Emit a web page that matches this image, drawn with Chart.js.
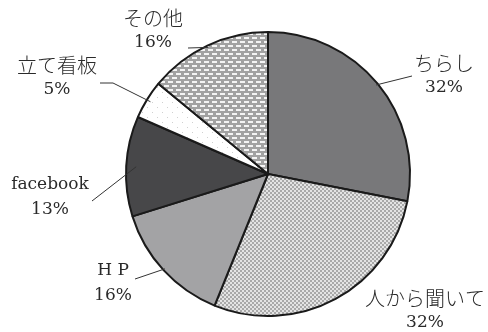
<!DOCTYPE html>
<html>
<head>
<meta charset="utf-8">
<script src="https://cdn.jsdelivr.net/npm/chart.js@4/dist/chart.umd.min.js"></script>
<style>
  html, body { margin: 0; padding: 0; background: #fff; }
  #wrap { width: 488px; height: 332px; }
</style>
</head>
<body>
<div id="wrap"><canvas id="pie" width="488" height="332"></canvas></div>
<script>
// 回答の内訳
const categories = ['ちらし', '人から聞いて', 'H P', 'facebook', '立て看板', 'その他'];
const shares = [32, 32, 16, 13, 5, 16];
const shareLabels = ['32%', '32%', '16%', '13%', '5%', '16%'];

// 塗りパターン
function makePattern(size, draw) {
    const c = document.createElement('canvas');
    c.width = size;
    c.height = size;
    const g = c.getContext('2d');
    draw(g);
    return document.createElement('canvas').getContext('2d').createPattern(c, 'repeat');
}

const checker = makePattern(4, g => {
    g.fillStyle = '#a9a9a9';
    g.fillRect(0, 0, 4, 4);
    g.fillStyle = '#e4e4e4';
    g.fillRect(0, 0, 2, 2);
    g.fillRect(2, 2, 2, 2);
});

const dashes = makePattern(8, g => {
    g.fillStyle = '#a2a2a2';
    g.fillRect(0, 0, 8, 8);
    g.fillStyle = '#f4f4f4';
    g.fillRect(0, 1, 5, 2);
    g.fillRect(4, 5, 4, 2);
    g.fillRect(0, 5, 1, 2);
});

const dots = makePattern(10, g => {
    g.fillStyle = '#ffffff';
    g.fillRect(0, 0, 10, 10);
    g.fillStyle = '#d0d0d0';
    g.fillRect(2, 2, 1, 1);
    g.fillRect(7, 7, 1, 1);
});

const fills = ['#78787a', checker, '#a3a3a5', '#474749', dots, dashes];

// ラベル位置と引き出し線
const labelPos = [
    { x: 444, y: 63, lead: [[412, 76]] },
    { x: 425, y: 298, lead: null },
    { x: 113, y: 271, lead: [[135, 279]] },
    { x: 50, y: 185, lead: [[92, 201]], inset: 10 },
    { x: 57, y: 65, lead: [[100, 83], [113, 83]], inset: 4 },
    { x: 153, y: 18, lead: [[188, 48]] }
];

const latinFont = '17px "DejaVu Serif", serif';
const cjkFont = '300 20px "Noto Sans CJK JP", sans-serif';

const pieLabels = {
    id: 'pieLabels',
    afterDatasetsDraw(chart) {
        const ctx = chart.ctx;
        const arcs = chart.getDatasetMeta(0).data;
        ctx.save();
        arcs.forEach((arc, i) => {
            const p = labelPos[i];
            const mid = (arc.startAngle + arc.endAngle) / 2;
            if (p.lead) {
                const r = arc.outerRadius - (p.inset || 2);
                ctx.strokeStyle = '#333';
                ctx.lineWidth = 1;
                ctx.beginPath();
                ctx.moveTo(p.lead[0][0], p.lead[0][1]);
                p.lead.slice(1).forEach(pt => ctx.lineTo(pt[0], pt[1]));
                ctx.lineTo(arc.x + Math.cos(mid) * r, arc.y + Math.sin(mid) * r);
                ctx.stroke();
            }
            ctx.fillStyle = '#2a2a2a';
            ctx.textAlign = 'center';
            ctx.textBaseline = 'middle';
            const ascii = /^[\x00-\x7f]+$/.test(categories[i]);
            ctx.font = ascii ? latinFont : cjkFont;
            ctx.fillText(categories[i], p.x, p.y);
            ctx.font = latinFont;
            ctx.fillText(shareLabels[i], p.x, p.y + 25);
        });
        ctx.restore();
    }
};

new Chart(document.getElementById('pie'), {
    type: 'pie',
    data: {
        labels: categories,
        datasets: [{
            data: shares,
            backgroundColor: fills,
            borderColor: '#1a1a1a',
            borderWidth: 2
        }]
    },
    options: {
        responsive: false,
        animation: false,
        layout: { padding: { left: 125, right: 77, top: 31, bottom: 15 } },
        plugins: {
            legend: { display: false },
            tooltip: { enabled: false }
        }
    },
    plugins: [pieLabels]
});
</script>
</body>
</html>
